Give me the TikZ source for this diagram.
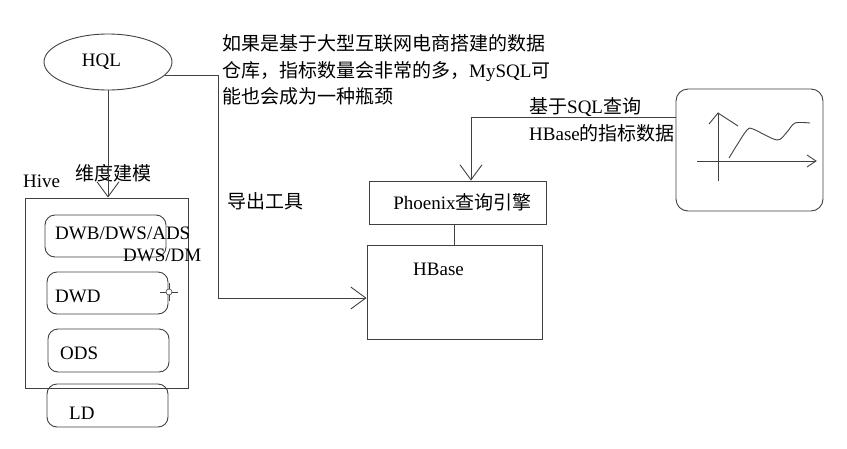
\documentclass[tikz,border=0pt]{standalone}
\usepackage{fontspec}
\setmainfont{Liberation Serif}
\newfontfamily\cjk{Noto Sans CJK SC}
\usetikzlibrary{shapes.geometric,arrows.meta}
\tikzset{
  ln/.style={draw=black!75, line width=0.9pt},
  arr/.style={-{Straight Barb[length=15pt,width=22pt,line width=0.9pt]}},
  box/.style={ln, rectangle, inner sep=0pt},
  layer/.style={ln, rectangle, rounded corners=10pt, minimum width=121pt, minimum height=42pt, inner sep=0pt},
  txt/.style={inner sep=0pt, anchor=base west, font=\fontsize{19}{22}\selectfont},
  big/.style={inner sep=0pt, anchor=base west, font=\fontsize{19}{23}\selectfont},
}
\begin{document}
\begin{tikzpicture}[x=1pt,y=-1pt]
\useasboundingbox (0,0) rectangle (847,448);
% HQL
\node[ln, ellipse, minimum width=128pt, minimum height=56pt, inner sep=0pt, font=\fontsize{19}{22}\selectfont] (hql) at (108,62) {\hspace{-13pt}HQL};
% Hive container
\node[box, minimum width=163pt, minimum height=190pt] (hive) at (106.5,293) {};
\node[txt] (hivet) at (23,187) {Hive};
\node[txt] (dm) at (75,180) {\cjk 维度建模};
% layers
\node[layer] (dwb) at (105.5,236) {};
\node[layer] (dwd) at (107.5,293) {};
\node[layer, minimum height=43pt] (ods) at (108.5,350.5) {};
\node[layer, minimum height=43pt] (ld) at (107.5,405.5) {};
\node[txt] (dwbt) at (55,239) {DWB/DWS/ADS};
\node[txt] (dwsdm) at (123,261) {DWS/DM};
\node[txt] (dwdt) at (55,302) {DWD};
\node[txt] (odst) at (60,359) {ODS};
\node[txt] (ldt) at (69,419) {LD};
% crosshair mark
\draw[ln, line width=0.6pt] (160,292) -- (178,292) (169,283) -- (169,301);
\draw[ln, line width=0.6pt, fill=white] (169,292) circle (3);
% top text
\node[big] (t1) at (222,50.5) {\cjk 如果是基于大型互联网电商搭建的数据};
\node[big] (t2) at (222,77) {\cjk 仓库，指标数量会非常的多，{\rmfamily MySQL}可};
\node[big] (t3) at (222,103.5) {\cjk 能也会成为一种瓶颈};
% export tool
\node[txt] (exp) at (227,208) {\cjk 导出工具};
% Phoenix and HBase
\node[box, minimum width=177pt, minimum height=43pt, font=\fontsize{19}{22}\selectfont] (phx) at (457.5,202.5) {\hspace{10pt}Phoenix{\cjk 查询引擎}};
\node[box, minimum width=175pt, minimum height=94pt] (hbase) at (454.5,292) {};
\node[txt] (hbaset) at (413,275) {HBase};
% chart
\node[ln, rectangle, rounded corners=12pt, minimum width=147pt, minimum height=122pt, inner sep=0pt] (chart) at (749.5,150) {};
\node[txt] (q1) at (529,113) {{\cjk 基于}SQL{\cjk 查询}};
\node[txt] (q2) at (529,140) {HBase{\cjk 的指标数据}};
% chart content
\draw[ln] (718,181) -- (718,113);
\draw[ln] (709,124) -- (718,113) -- (738,126);
\draw[ln] (697,161) -- (816,161);
\draw[ln] (807,155) -- (816,161) -- (807,167);
\draw[ln] plot[smooth, tension=0.5] coordinates {(729,158) (737,145) (747,130) (753,129) (777,140) (787,132) (795,123) (810,123)};
% connectors
\coordinate (eb) at (218,298);
\coordinate (cb) at (471,117);
\draw[ln, arr] (hql.south) -- (hql.south |- hive.north);
\draw[ln, arr] (hql.-13) -| (eb) -- (eb -| hbase.west);
\draw[ln] (hbase.north) -- (hbase.north |- phx.south);
\draw[ln, arr] (chart.west |- cb) -- (cb) -- (cb |- phx.north);
\end{tikzpicture}
\end{document}
